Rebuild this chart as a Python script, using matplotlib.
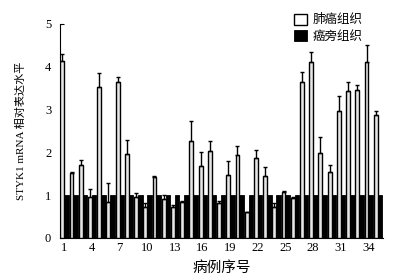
import numpy as np
import matplotlib
matplotlib.use("Agg")
import matplotlib.pyplot as plt

plt.rcParams["font.family"] = ["Liberation Serif", "Noto Sans CJK SC"]

# 病例 1-35：肺癌组织相对表达量与上误差，癌旁组织为 1
cases = np.arange(1, 36)
tumor = [4.13, 1.51, 1.70, 0.96, 3.53, 0.85, 3.64, 1.95, 0.96, 0.73,
         1.43, 0.91, 0.73, 0.85, 2.25, 1.69, 2.03, 0.82, 1.47, 1.93,
         0.61, 1.86, 1.44, 0.73, 1.08, 0.94, 3.64, 4.11, 1.97, 1.55,
         2.96, 3.43, 3.45, 4.11, 2.87]
tumor_err = [0.15, 0.04, 0.12, 0.18, 0.32, 0.44, 0.11, 0.33, 0.10, 0.09,
             0.02, 0.09, 0.04, 0.02, 0.48, 0.32, 0.22, 0.05, 0.33, 0.22,
             0.00, 0.19, 0.22, 0.09, 0.02, 0.02, 0.23, 0.22, 0.38, 0.15,
             0.36, 0.21, 0.12, 0.40, 0.09]
normal = [1.0] * 35
xticks = list(range(1, 36, 3))

fig = plt.figure(figsize=(3.97, 2.8), dpi=100)
ax = fig.add_axes([0.150, 0.150, 0.815, 0.766])

ax.bar(cases + 0.25, normal, width=0.5, color="black", edgecolor="black",
       linewidth=0.6, label="癌旁组织", zorder=2)
ax.bar(cases - 0.2, tumor, width=0.42, color="#e6e6e6", edgecolor="black",
       linewidth=1.0, label="肺癌组织", zorder=3)
ax.errorbar(cases - 0.2, tumor, yerr=[np.zeros(35), tumor_err], fmt="none",
            ecolor="black", elinewidth=1.0, capsize=1.5, capthick=1.0, zorder=4)

ax.set_xlim(0.5, 35.6)
ax.set_ylim(0, 5)
ax.set_xticks(xticks)
ax.set_yticks(range(0, 6))
ax.tick_params(direction="in", length=3, width=0.8, labelsize=9)
ax.tick_params(axis="y", pad=6)
ax.tick_params(axis="x", pad=3)
for s in ["top", "right"]:
    ax.spines[s].set_visible(False)
ax.spines["left"].set_linewidth(0.8)
ax.spines["bottom"].set_linewidth(0.8)

ax.set_xlabel("病例序号", fontsize=10.5, labelpad=5)
ax.set_ylabel("STYK1 mRNA 相对表达水平", fontsize=8, labelpad=14)

h, l = ax.get_legend_handles_labels()
leg = ax.legend(h[::-1], l[::-1], loc="upper left", bbox_to_anchor=(0.71, 1.07),
                frameon=False, fontsize=9, handlelength=1.0, handleheight=1.0,
                handletextpad=0.5, labelspacing=0.3, borderaxespad=0)
leg.get_patches()[0].set_facecolor("white")

fig.savefig("out.png", dpi=100)
